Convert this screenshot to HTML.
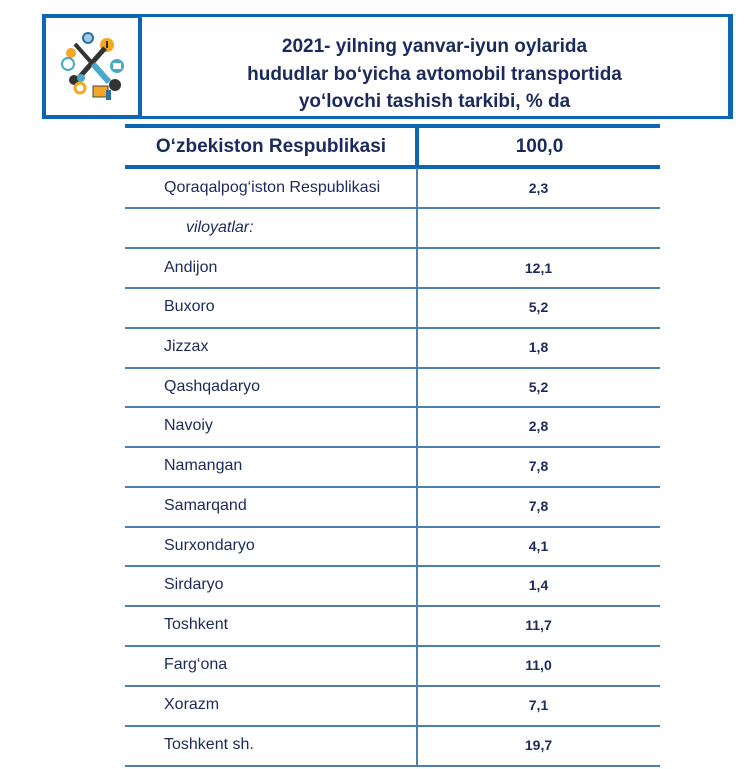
<!DOCTYPE html>
<html><head><meta charset="utf-8"><style>
body{margin:0;background:#fff;width:747px;height:769px;position:relative;overflow:hidden;font-family:"Liberation Sans",Arial,sans-serif;color:#1b2a5c}
.abs{position:absolute}
.title{left:143px;width:583px;text-align:center;font-weight:bold;font-size:19px;line-height:27.5px;top:33px}
.row{position:absolute;left:125px;width:535px;height:40px}
.lab{position:absolute;left:39px;top:0;line-height:40px;font-size:16px}
.val{position:absolute;left:292px;width:243px;text-align:center;line-height:40px;font-size:14px;font-weight:bold}
.hl{position:absolute;left:125px;width:535px;height:2px;background:#4f7fb0}
</style></head><body>
<div class="abs" style="left:42px;top:14px;width:92px;height:97px;border:4px solid #0d66b2"></div>
<div class="abs" style="left:139px;top:14px;width:586px;height:99px;border:3px solid #0d66b2;border-right-width:5px;border-left-width:3px"></div>
<svg class="abs" style="left:55px;top:30px" width="75" height="75" viewBox="0 0 75 75">
<circle cx="33" cy="8" r="6" fill="#2d6f9e"/><circle cx="33" cy="8" r="4" fill="#9ecbe6"/>
<circle cx="52" cy="15" r="7" fill="#f5a623"/><rect x="51" y="11" width="2" height="7" fill="#333"/>
<circle cx="16" cy="23" r="5" fill="#f5a623"/>
<circle cx="13" cy="34" r="6" fill="#fff" stroke="#49a9c9" stroke-width="2"/>
<circle cx="62" cy="36" r="7" fill="#49a9c9"/><rect x="58" y="33" width="8" height="6" fill="#fff"/>
<line x1="20" y1="14" x2="52" y2="50" stroke="#333" stroke-width="4"/>
<line x1="50" y1="18" x2="22" y2="50" stroke="#333" stroke-width="5"/>
<line x1="38" y1="34" x2="54" y2="52" stroke="#49a9c9" stroke-width="6"/>
<circle cx="19" cy="50" r="5" fill="#333"/><circle cx="26" cy="48" r="4" fill="#49a9c9"/>
<circle cx="25" cy="58" r="5" fill="none" stroke="#f5a623" stroke-width="3"/>
<circle cx="60" cy="55" r="6" fill="#333"/>
<rect x="38" y="56" width="15" height="11" fill="#f5a623" stroke="#444"/><rect x="51" y="60" width="5" height="10" fill="#2d6f9e"/>
</svg>
<div class="abs title">2021- yilning yanvar-iyun oylarida<br>hududlar bo‘yicha avtomobil transportida<br>yo‘lovchi tashish tarkibi, % da</div>
<div class="abs" style="left:125px;top:124px;width:535px;height:4px;background:#0d66b2"></div>
<div class="abs" style="left:125px;top:165px;width:535px;height:4px;background:#0d66b2"></div>
<div class="abs" style="left:415px;top:124px;width:4px;height:44px;background:#0d66b2"></div>
<div class="abs" style="left:416px;top:168px;width:2px;height:599px;background:#4f7fb0"></div>
<div class="abs" style="left:125px;top:128px;width:292px;text-align:center;line-height:37px;font-size:19px;font-weight:bold">O‘zbekiston Respublikasi</div>
<div class="abs" style="left:419px;top:128px;width:241px;text-align:center;line-height:37px;font-size:19px;font-weight:bold">100,0</div>

<div class="row" style="top:168px"><div class="lab">Qoraqalpog‘iston Respublikasi</div><div class="val">2,3</div></div>
<div class="hl" style="top:207px"></div>
<div class="row" style="top:208px"><div class="lab" style="left:61px;font-style:italic">viloyatlar:</div></div>
<div class="hl" style="top:247px"></div>
<div class="row" style="top:248px"><div class="lab">Andijon</div><div class="val">12,1</div></div>
<div class="hl" style="top:287px"></div>
<div class="row" style="top:287px"><div class="lab">Buxoro</div><div class="val">5,2</div></div>
<div class="hl" style="top:327px"></div>
<div class="row" style="top:327px"><div class="lab">Jizzax</div><div class="val">1,8</div></div>
<div class="hl" style="top:367px"></div>
<div class="row" style="top:367px"><div class="lab">Qashqadaryo</div><div class="val">5,2</div></div>
<div class="hl" style="top:406px"></div>
<div class="row" style="top:406px"><div class="lab">Navoiy</div><div class="val">2,8</div></div>
<div class="hl" style="top:446px"></div>
<div class="row" style="top:446px"><div class="lab">Namangan</div><div class="val">7,8</div></div>
<div class="hl" style="top:486px"></div>
<div class="row" style="top:486px"><div class="lab">Samarqand</div><div class="val">7,8</div></div>
<div class="hl" style="top:526px"></div>
<div class="row" style="top:526px"><div class="lab">Surxondaryo</div><div class="val">4,1</div></div>
<div class="hl" style="top:565px"></div>
<div class="row" style="top:565px"><div class="lab">Sirdaryo</div><div class="val">1,4</div></div>
<div class="hl" style="top:605px"></div>
<div class="row" style="top:605px"><div class="lab">Toshkent</div><div class="val">11,7</div></div>
<div class="hl" style="top:645px"></div>
<div class="row" style="top:645px"><div class="lab">Farg‘ona</div><div class="val">11,0</div></div>
<div class="hl" style="top:685px"></div>
<div class="row" style="top:685px"><div class="lab">Xorazm</div><div class="val">7,1</div></div>
<div class="hl" style="top:725px"></div>
<div class="row" style="top:725px"><div class="lab">Toshkent sh.</div><div class="val">19,7</div></div>
<div class="hl" style="top:765px"></div>
</body></html>
